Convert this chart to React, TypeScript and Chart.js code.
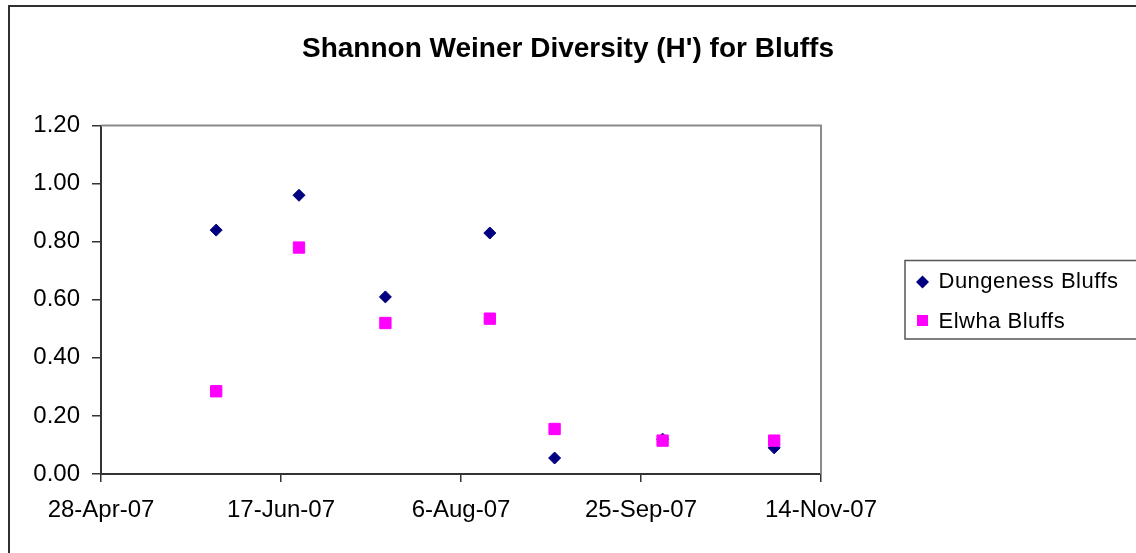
import React, { useEffect, useRef } from "react";
import { Chart, registerables } from "chart.js";

Chart.register(...registerables);

// ---- data ----
const titleText = "Shannon Weiner Diversity (H') for Bluffs";
const seriesNames = ["Dungeness Bluffs", "Elwha Bluffs"];
const sampleDates = [
  "2007-05-30",
  "2007-06-22",
  "2007-07-16",
  "2007-08-14",
  "2007-09-01",
  "2007-10-01",
  "2007-11-01",
];
const dungenessValues = [0.84, 0.96, 0.61, 0.83, 0.055, 0.12, 0.09];
const elwhaValues = [0.285, 0.78, 0.52, 0.535, 0.155, 0.115, 0.115];
const xTickDates = ["2007-04-28", "2007-06-17", "2007-08-06", "2007-09-25", "2007-11-14"];
const yTickValues = [0, 0.2, 0.4, 0.6, 0.8, 1.0, 1.2];
const monthNames = ["Jan", "Feb", "Mar", "Apr", "May", "Jun", "Jul", "Aug", "Sep", "Oct", "Nov", "Dec"];

const seriesColors = ["#000080", "#FF00FF"];
const seriesShapes = ["rectRot", "rect"];

const EPOCH = Date.UTC(1899, 11, 30);
const DAY = 86400000;

function toSerial(iso: string): number {
  const [y, m, d] = iso.split("-").map(Number);
  return Math.round((Date.UTC(y, m - 1, d) - EPOCH) / DAY);
}

function serialLabel(s: number): string {
  const dt = new Date(EPOCH + s * DAY);
  return `${dt.getUTCDate()}-${monthNames[dt.getUTCMonth()]}-${String(dt.getUTCFullYear()).slice(2)}`;
}

const FONT = '"Liberation Sans", Arial, sans-serif';

const decorPlugin = {
  id: "decor",
  beforeDraw(chart: any) {
    const { ctx, width, height } = chart;
    ctx.save();
    ctx.fillStyle = "#ffffff";
    ctx.fillRect(0, 0, width, height);
    ctx.restore();
  },
  beforeDatasetsDraw(chart: any) {
    const { ctx, chartArea: a } = chart;
    ctx.save();
    ctx.strokeStyle = "#8a8a8a";
    ctx.lineWidth = 2;
    ctx.beginPath();
    ctx.moveTo(a.left, a.top);
    ctx.lineTo(a.right, a.top);
    ctx.lineTo(a.right, a.bottom);
    ctx.stroke();
    ctx.restore();
  },
  afterDraw(chart: any) {
    const { ctx } = chart;
    ctx.save();
    // outer chart frame (clipped on the right and bottom)
    ctx.strokeStyle = "#303030";
    ctx.lineWidth = 2;
    ctx.beginPath();
    ctx.moveTo(9, 600);
    ctx.lineTo(9, 6);
    ctx.lineTo(1200, 6);
    ctx.stroke();

    // legend box
    ctx.strokeStyle = "#555555";
    ctx.lineWidth = 1.5;
    ctx.strokeRect(905, 260.5, 300, 78.5);

    const markerRows = [282, 320.5];
    const textRows = [287.5, 327.5];
    ctx.font = `22px ${FONT}`;
    try {
      (ctx as any).letterSpacing = "0.5px";
    } catch (e) {}
    ctx.textBaseline = "alphabetic";
    ctx.textAlign = "left";
    seriesNames.forEach((name, i) => {
      const cx = 922.5;
      const cy = markerRows[i];
      ctx.fillStyle = seriesColors[i];
      ctx.beginPath();
      if (seriesShapes[i] === "rectRot") {
        ctx.moveTo(cx, cy - 6.5);
        ctx.lineTo(cx + 6.5, cy);
        ctx.lineTo(cx, cy + 6.5);
        ctx.lineTo(cx - 6.5, cy);
        ctx.closePath();
      } else {
        ctx.rect(cx - 5.5, cy - 5.5, 11, 11);
      }
      ctx.fill();
      ctx.fillStyle = "#000000";
      ctx.fillText(name, 938.5, textRows[i]);
    });
    ctx.restore();
  },
};

export default function App() {
  const canvasRef = useRef<HTMLCanvasElement | null>(null);

  useEffect(() => {
    const canvas = canvasRef.current;
    if (!canvas) return;
    const xs = sampleDates.map(toSerial);
    const xTicks = xTickDates.map(toSerial);

    const chart = new Chart(canvas, {
      type: "scatter",
      data: {
        datasets: [
          {
            label: seriesNames[0],
            data: xs.map((x, i) => ({ x, y: dungenessValues[i] })),
            backgroundColor: seriesColors[0],
            borderColor: seriesColors[0],
            borderWidth: 1,
            pointStyle: seriesShapes[0] as any,
            pointRadius: 6,
            order: 1,
          },
          {
            label: seriesNames[1],
            data: xs.map((x, i) => ({ x, y: elwhaValues[i] })),
            backgroundColor: seriesColors[1],
            borderColor: seriesColors[1],
            borderWidth: 1,
            pointStyle: seriesShapes[1] as any,
            pointRadius: 8,
            order: 0,
          },
        ],
      },
      options: {
        animation: false,
        responsive: false,
        devicePixelRatio: 1,
        layout: { padding: 0 },
        plugins: {
          legend: { display: false },
          tooltip: { enabled: false },
          title: {
            display: true,
            text: titleText,
            color: "#000000",
            font: { family: FONT, size: 28, weight: "bold" },
            padding: { top: 32, bottom: 60 },
          },
        },
        scales: {
          x: {
            type: "linear",
            min: xTicks[0],
            max: xTicks[xTicks.length - 1],
            afterFit(scale: any) {
              scale.height = 79;
            },
            afterBuildTicks(scale: any) {
              scale.ticks = xTicks.map((v) => ({ value: v }));
            },
            ticks: {
              color: "#000000",
              font: { family: FONT, size: 24 },
              padding: 14,
              maxRotation: 0,
              autoSkip: false,
              callback: (v: any) => serialLabel(Number(v)),
            },
            grid: {
              drawOnChartArea: false,
              drawTicks: true,
              tickLength: 8,
              color: "#333333",
              lineWidth: 1.5,
            },
            border: { display: true, color: "#333333", width: 2 },
          },
          y: {
            type: "linear",
            min: yTickValues[0],
            max: yTickValues[yTickValues.length - 1],
            afterFit(scale: any) {
              scale.width = 101;
            },
            afterBuildTicks(scale: any) {
              scale.ticks = yTickValues.map((v) => ({ value: v }));
            },
            ticks: {
              color: "#000000",
              font: { family: FONT, size: 24 },
              padding: 12,
              callback: (v: any) => Number(v).toFixed(2),
            },
            grid: {
              drawOnChartArea: false,
              drawTicks: true,
              tickLength: 9,
              color: "#333333",
              lineWidth: 1.5,
            },
            border: { display: true, color: "#333333", width: 2 },
          },
          // empty right-hand box that reserves the space used by the legend
          legendSpace: {
            type: "linear",
            position: "right",
            display: true,
            afterFit(scale: any) {
              scale.width = 315;
            },
            ticks: { display: false },
            grid: { display: false, drawTicks: false },
            border: { display: false },
          },
        },
      },
      plugins: [decorPlugin],
    });

    return () => {
      chart.destroy();
    };
  }, []);

  return (
    <div style={{ position: "absolute", left: 0, top: 0, width: 1136, height: 553, background: "#ffffff" }}>
      <canvas ref={canvasRef} width={1136} height={553} style={{ display: "block" }} />
    </div>
  );
}
